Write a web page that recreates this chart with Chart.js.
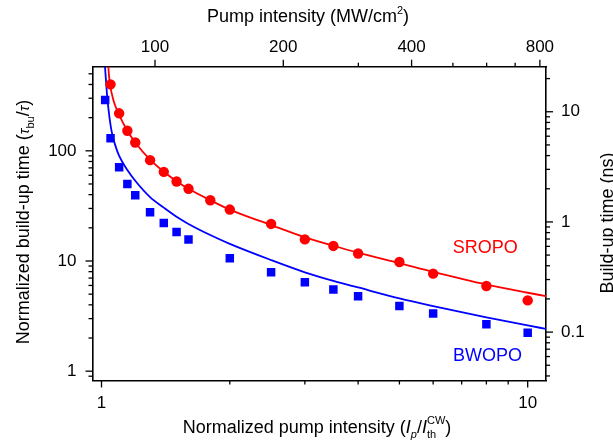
<!DOCTYPE html>
<html>
<head>
<meta charset="utf-8">
<script src="https://cdn.jsdelivr.net/npm/chart.js@4.4.1/dist/chart.umd.min.js"></script>
<style>
  html, body { margin: 0; padding: 0; background: #fff; }
  #wrap { width: 613px; height: 442px; }
</style>
</head>
<body>
<div id="wrap"><canvas id="chart" width="613" height="442"></canvas></div>
<script>
// measured points
const sroX = [1.05, 1.1, 1.15, 1.2, 1.3, 1.4, 1.5, 1.6, 1.8, 2, 2.5, 3, 3.5, 4, 5, 6, 8, 10];
const sroY = [401, 219, 152, 119, 82.3, 64.4, 52.7, 45.2, 35.6, 29.3, 21.7, 15.7, 13.7, 11.7, 9.8, 7.68, 5.93, 4.39];
const bwoX = [1.02, 1.05, 1.1, 1.15, 1.2, 1.3, 1.4, 1.5, 1.6, 2, 2.5, 3, 3.5, 4, 5, 6, 8, 10];
const bwoY = [289, 130, 71.1, 50.1, 39.6, 27.7, 22.1, 18.3, 15.7, 10.6, 7.89, 6.40, 5.50, 4.78, 3.90, 3.34, 2.67, 2.23];

// fit curves
const sroFitX = [1.036, 1.041, 1.047, 1.066, 1.1, 1.15, 1.2, 1.3, 1.4, 1.5, 1.6, 1.8, 2, 2.5, 3, 3.5, 4, 5, 6, 8, 10, 11.04];
const sroFitY = [640, 487, 401, 289, 212, 152, 119, 83, 64.5, 53, 45.2, 35.6, 29.3, 21.2, 16.4, 13.75, 11.9, 9.55, 7.95, 6.1, 5.15, 4.8];
const bwoFitX = [1.019, 1.025, 1.032, 1.045, 1.057, 1.075, 1.1, 1.15, 1.2, 1.3, 1.4, 1.5, 1.6, 1.8, 2, 2.5, 3, 3.5, 4, 5, 6, 8, 10, 11.04];
const bwoFitY = [580, 420, 300, 195, 148, 115, 90, 67, 53.5, 38, 30.5, 25.2, 21.7, 17.2, 14.3, 10.2, 7.9, 6.6, 5.75, 4.58, 3.9, 3.08, 2.6, 2.42];

// axis ticks
const xTicks = [1, 2, 3, 4, 5, 6, 7, 8, 9, 10];
const xLabels = [1, 10];
const topTicks = [100, 200, 300, 400, 500, 600, 700, 800];
const topLabels = [100, 200, 400, 800];
const yTicks = [0.9, 1, 2, 3, 4, 5, 6, 7, 8, 9, 10, 20, 30, 40, 50, 60, 70, 80, 90, 100, 200, 300, 400, 500];
const yLabels = [1, 10, 100];
const y2Ticks = [0.04, 0.05, 0.06, 0.07, 0.08, 0.09, 0.1, 0.2, 0.3, 0.4, 0.5, 0.6, 0.7, 0.8, 0.9, 1, 2, 3, 4, 5, 6, 7, 8, 9, 10, 20];
const y2Labels = [0.1, 1, 10];

const seriesNames = ['SROPO', 'BWOPO'];
const nameX = [7.95, 8.05];
const nameY = [13.0, 1.36];

const RED = 'rgb(255,0,0)';
const BLUE = 'rgb(0,0,255)';
const FONT = '"Liberation Sans", Arial, sans-serif';

const pts = (xs, ys) => xs.map((x, i) => ({ x: x, y: ys[i] }));

function setFont(ctx, p) {
  ctx.font = (p.it ? 'italic ' : '') + (p.sz || 18) + 'px ' + FONT;
  return ctx.measureText(p.t).width;
}
function drawRich(ctx, parts, cx, cy, ang) {
  ctx.save();
  ctx.translate(cx, cy);
  ctx.rotate(ang || 0);
  ctx.fillStyle = '#000';
  ctx.textAlign = 'left';
  ctx.textBaseline = 'alphabetic';
  const ws = parts.map(p => p.up ? Math.max(setFont(ctx, p), setFont(ctx, p.up)) : setFont(ctx, p));
  let x = -ws.reduce((a, b) => a + b, 0) / 2;
  parts.forEach((p, i) => {
    setFont(ctx, p);
    ctx.fillText(p.t, x, 6.5 + (p.dy || 0));
    if (p.up) { setFont(ctx, p.up); ctx.fillText(p.up.t, x, 6.5 + p.up.dy); }
    x += ws[i];
  });
  ctx.restore();
}

const setTicks = vals => scale => { scale.ticks = vals.map(v => ({ value: v })); };
const labelIf = list => v => list.indexOf(v) >= 0 ? String(v) : '';

const tickPlugin = {
  id: 'ticksAndText',
  afterDraw(chart) {
    const ctx = chart.ctx, a = chart.chartArea;
    ctx.save();
    ctx.strokeStyle = '#000';
    ctx.lineWidth = 1.3;
    const defs = [['x', xLabels], ['x2', topLabels], ['y', yLabels], ['y2', y2Labels]];
    defs.forEach(([id, labs]) => {
      const s = chart.scales[id];
      s.ticks.forEach(t => {
        const p = s.getPixelForValue(t.value);
        const len = labs.indexOf(t.value) >= 0 ? 7 : 4;
        ctx.beginPath();
        if (id === 'x') { ctx.moveTo(p, a.bottom); ctx.lineTo(p, a.bottom + len); }
        if (id === 'x2') { ctx.moveTo(p, a.top); ctx.lineTo(p, a.top - len); }
        if (id === 'y') { ctx.moveTo(a.left, p); ctx.lineTo(a.left - len, p); }
        if (id === 'y2') { ctx.moveTo(a.right, p); ctx.lineTo(a.right + len, p); }
        ctx.stroke();
      });
    });
    ctx.restore();

    // curve names
    ctx.save();
    ctx.font = '18px ' + FONT;
    ctx.textAlign = 'center';
    ctx.textBaseline = 'middle';
    [RED, BLUE].forEach((c, i) => {
      ctx.fillStyle = c;
      ctx.fillText(seriesNames[i], chart.scales.x.getPixelForValue(nameX[i]), chart.scales.y.getPixelForValue(nameY[i]));
    });
    ctx.restore();

    // axis titles
    drawRich(ctx, [{ t: 'Pump intensity (MW/cm' }, { t: '2', sz: 11, dy: -8 }, { t: ')' }], 308, 15);
    drawRich(ctx, [{ t: 'Normalized pump intensity (' }, { t: 'I', it: true }, { t: 'p', it: true, sz: 11, dy: 5 },
      { t: '/' }, { t: 'I', it: true }, { t: 'th', sz: 11, dy: 5, up: { t: 'CW', sz: 11, dy: -9 } }, { t: ')' }], 317, 426);
    drawRich(ctx, [{ t: 'Normalized build-up time (' }, { t: 'τ', it: true, sz: 15 }, { t: 'bu', sz: 11, dy: 5 },
      { t: '/' }, { t: 'τ', it: true, sz: 15 }, { t: ')' }], 22, 222, -Math.PI / 2);
    drawRich(ctx, [{ t: 'Build-up time (ns)' }], 606, 223, -Math.PI / 2);
  }
};

const tickFont = { family: FONT, size: 17 };
const gridOff = { display: false, drawTicks: false };
const frame = { display: true, color: '#000', width: 1.6 };

new Chart(document.getElementById('chart').getContext('2d'), {
  type: 'scatter',
  data: {
    datasets: [
      { label: 'SROPO', data: pts(sroX, sroY), backgroundColor: RED, borderColor: RED, borderWidth: 0,
        pointStyle: 'circle', pointRadius: 5.2, xAxisID: 'x', yAxisID: 'y' },
      { label: 'BWOPO', data: pts(bwoX, bwoY), backgroundColor: BLUE, borderColor: BLUE, borderWidth: 0,
        pointStyle: 'rect', pointRadius: 6, xAxisID: 'x', yAxisID: 'y' },
      { label: 'SROPO fit', data: pts(sroFitX, sroFitY), showLine: true, borderColor: RED, borderWidth: 1.8,
        pointRadius: 0, cubicInterpolationMode: 'monotone', xAxisID: 'x', yAxisID: 'y' },
      { label: 'BWOPO fit', data: pts(bwoFitX, bwoFitY), showLine: true, borderColor: BLUE, borderWidth: 1.8,
        pointRadius: 0, cubicInterpolationMode: 'monotone', xAxisID: 'x', yAxisID: 'y' }
    ]
  },
  options: {
    responsive: false,
    animation: false,
    devicePixelRatio: 1,
    layout: { padding: 0 },
    plugins: { legend: { display: false }, tooltip: { enabled: false } },
    scales: {
      x: {
        type: 'logarithmic', position: 'bottom', min: 0.9525, max: 11.04,
        afterBuildTicks: setTicks(xTicks), afterFit: s => { s.height = 61.5; },
        grid: gridOff, border: frame,
        ticks: { callback: labelIf(xLabels), color: '#000', font: tickFont, padding: 13, maxRotation: 0, autoSkip: false }
      },
      x2: {
        type: 'logarithmic', position: 'top', min: 71.34, max: 826.9,
        afterBuildTicks: setTicks(topTicks), afterFit: s => { s.height = 66.7; },
        grid: gridOff, border: frame,
        ticks: { callback: labelIf(topLabels), color: '#000', font: tickFont, padding: 9, maxRotation: 0, autoSkip: false }
      },
      y: {
        type: 'logarithmic', position: 'left', min: 0.823, max: 580,
        afterBuildTicks: setTicks(yTicks), afterFit: s => { s.width = 92.5; },
        grid: gridOff, border: frame,
        ticks: { callback: labelIf(yLabels), color: '#000', font: tickFont, padding: 16, autoSkip: false }
      },
      y2: {
        type: 'logarithmic', position: 'right', min: 0.03637, max: 25.64,
        afterBuildTicks: setTicks(y2Ticks), afterFit: s => { s.width = 67; },
        grid: gridOff, border: frame,
        ticks: { callback: labelIf(y2Labels), color: '#000', font: tickFont, padding: 15, autoSkip: false }
      }
    }
  },
  plugins: [tickPlugin]
});
</script>
</body>
</html>
